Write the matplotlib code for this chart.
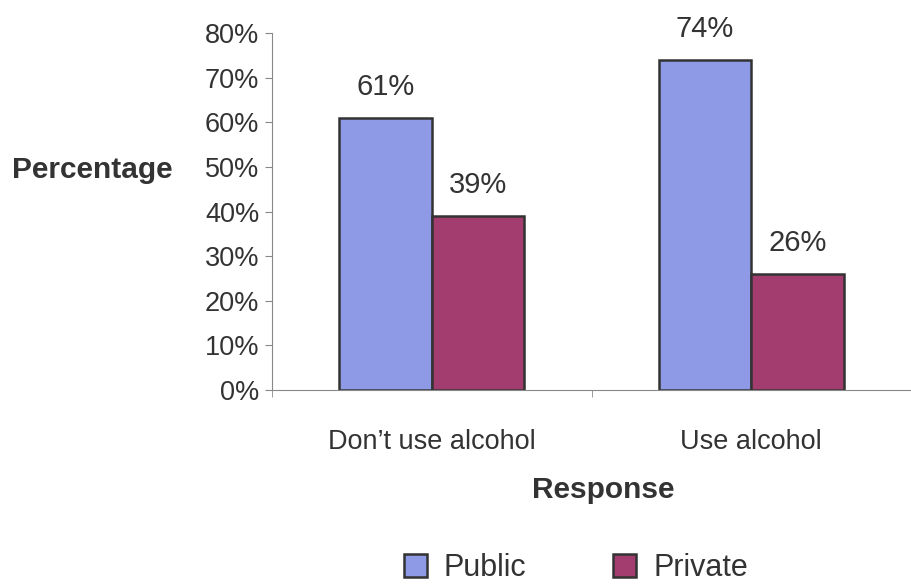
import matplotlib.pyplot as plt
import numpy as np

plt.rcParams['font.family'] = ['Liberation Sans', 'DejaVu Sans']

# 数据
categories = ["Don\u2019t use alcohol", "Use alcohol"]
public_vals = [61, 74]
private_vals = [39, 26]
y_ticks = [0, 10, 20, 30, 40, 50, 60, 70, 80]

text_color = '#333333'
blue = '#8e9ae6'
plum = '#a33d70'

fig = plt.figure(figsize=(9.11, 5.84), dpi=100)
ax = fig.add_axes([272 / 911, 1 - 390 / 584, 639 / 911, 357 / 584])

x = np.arange(len(categories))
w = 0.289
b1 = ax.bar(x - w / 2, public_vals, w, color=blue, edgecolor='#333333', linewidth=1.8, label='Public')
b2 = ax.bar(x + w / 2, private_vals, w, color=plum, edgecolor='#333333', linewidth=1.8, label='Private')

# 柱顶数值标签
for bars in (b1, b2):
    for bar in bars:
        h = bar.get_height()
        ax.annotate(f'{int(h)}%', (bar.get_x() + bar.get_width() / 2, h),
                    xytext=(0, 22), textcoords='offset points',
                    ha='center', va='center', fontsize=21, color=text_color)

ax.set_xlim(-0.5, -0.5 + 639 / 322)
ax.set_ylim(0, 80)
ax.set_yticks(y_ticks)
ax.set_yticklabels([f'{v}%' for v in y_ticks])
ax.set_xticks(x)
ax.set_xticklabels(categories)
ax.set_xticks([-0.5, 0.5, 1.5], minor=True)
ax.tick_params(axis='x', which='major', length=0, pad=28, labelsize=19.5, labelcolor=text_color)
ax.tick_params(axis='x', which='minor', length=5, color='#888888', direction='out')
ax.tick_params(axis='y', length=5, color='#888888', labelsize=19.5, labelcolor=text_color, pad=4)

for s in ['top', 'right']:
    ax.spines[s].set_visible(False)
ax.spines['left'].set_color('#888888')
ax.spines['bottom'].set_color('#888888')

fig.text(12 / 911, 1 - 170 / 584, 'Percentage', fontsize=21.5, fontweight='bold',
         color=text_color, ha='left', va='center')
fig.text(603 / 911, 1 - 490 / 584, 'Response', fontsize=21.5, fontweight='bold',
         color=text_color, ha='center', va='center')

fig.legend(handles=[b1, b2], loc='center', bbox_to_anchor=(576 / 911, 1 - 568 / 584),
           ncol=2, frameon=False, fontsize=22, columnspacing=2.85,
           handlelength=0.75, handleheight=0.75, handletextpad=0.55,
           labelcolor=text_color)

plt.savefig('out.png', dpi=100)
